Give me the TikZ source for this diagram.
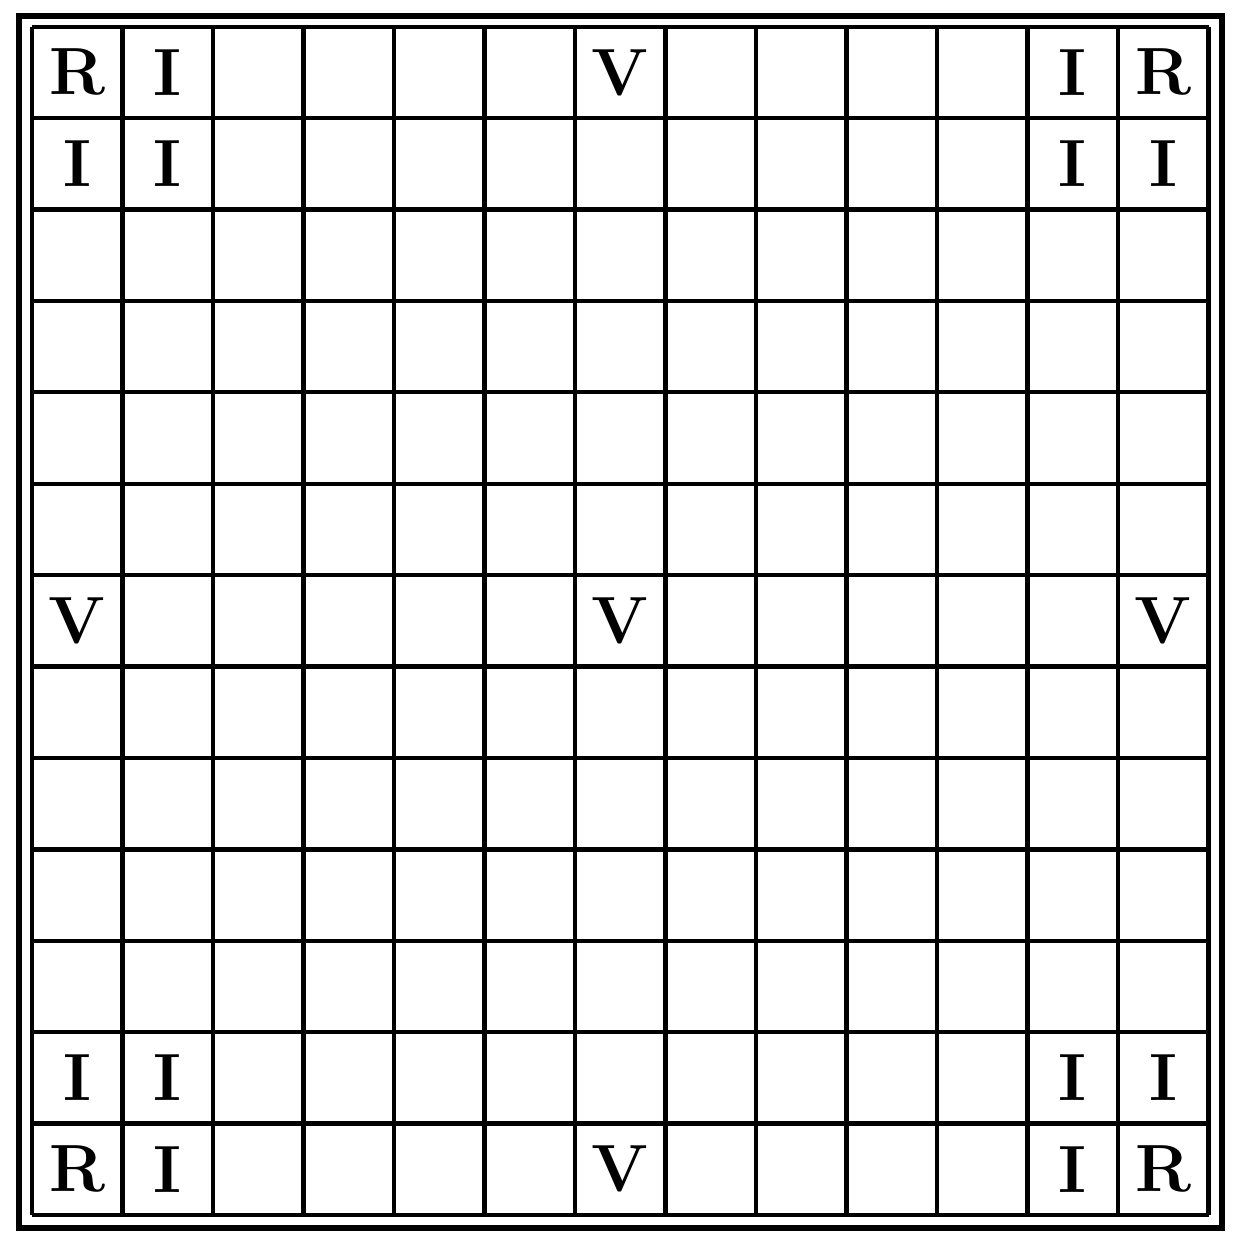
\documentclass[tikz,border=0pt]{standalone}
\usepackage{tikz}
\usetikzlibrary{positioning}

\begin{document}
\begin{tikzpicture}[every node/.style={font=\fontsize{19}{22}\selectfont\bfseries, inner sep=0pt}]
 \useasboundingbox (0,0) rectangle (12.4,12.5);
 \draw[line width=1.7pt] (0.19,0.22) rectangle (12.22,12.34);
 \begin{scope}[shift={(0.32,0.35)}, x=0.905cm, y=0.914cm]
  \foreach \i in {0,...,13} {
   \draw[line width=1.2pt] (\i,0) -- (\i,13);
   \draw[line width=1.2pt] (0,\i) -- (13,\i);
  }
  % pieces: column/row (row counted from top)
  \foreach \c/\r/\t/\n in {1/1/R/rnw, 2/1/I/inw, 7/1/V/vn, 12/1/I/ine, 13/1/R/rne,
    1/2/I/inwa, 2/2/I/inwb, 12/2/I/inea, 13/2/I/ineb,
    1/7/V/vw, 7/7/V/vc, 13/7/V/ve,
    1/12/I/iswa, 2/12/I/iswb, 12/12/I/isea, 13/12/I/iseb,
    1/13/R/rsw, 2/13/I/isw, 7/13/V/vs, 12/13/I/ise, 13/13/R/rse}
   \node (\n) at (\c-0.5,13.5-\r) {\t};
 \end{scope}
\end{tikzpicture}
\end{document}
